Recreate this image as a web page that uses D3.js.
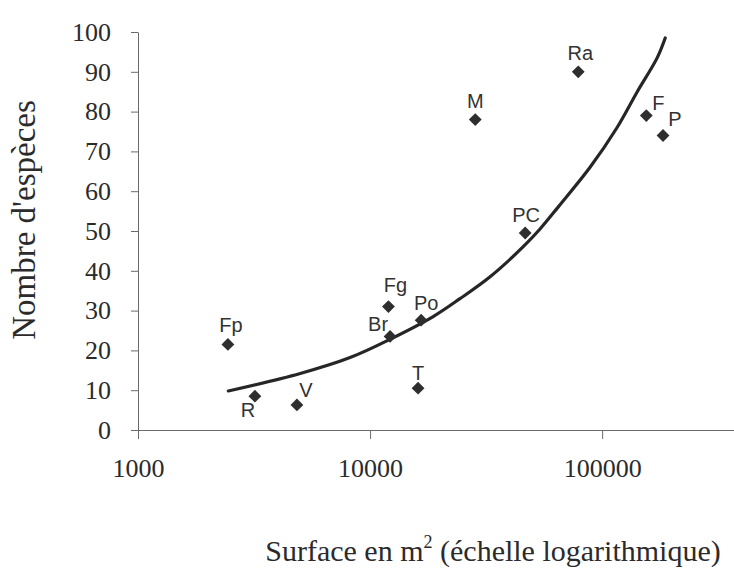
<!DOCTYPE html>
<html>
<head>
<meta charset="utf-8">
<script src="https://cdn.jsdelivr.net/npm/d3@7"></script>
<style>
  html, body { margin: 0; padding: 0; background: #fff; }
  svg { display: block; }
</style>
</head>
<body>
<svg id="chart" width="734" height="570"></svg>
<script>
// ---- data ----
const xTickValues = [1000, 10000, 100000];
const yTickValues = [0, 10, 20, 30, 40, 50, 60, 70, 80, 90, 100];
const siteNames   = ["Fp", "R", "V", "Br", "Fg", "Po", "T", "M", "PC", "Ra", "F", "P"];
const siteArea    = [2440, 3190, 4840, 12200, 12000, 16600, 16100, 28400, 46600, 78900, 155000, 183000];
const siteSpecies = [21.5, 8.5, 6.3, 23.5, 31, 27.6, 10.5, 78, 49.5, 90, 79, 74];
// fitted curve, points
const curveArea    = [2450, 5000, 8200, 12200, 18700, 24400, 32900, 45600, 54000, 64600, 88700, 116000, 141700, 172600, 187000];
const curveSpecies = [9.8, 14.2, 18.2, 22.8, 28.5, 33, 38.5, 46, 50.5, 56, 66, 76, 85, 93.5, 98.5];

// label placement (layout only)
const labelDx = [3, -7, 9, -12, 7, 5, 0, 0, 1, 2, 12, 12];
const labelDy = [-12, 21, -8, -5, -15, -10, -8, -12, -11, -12, -6, -9];

const svg = d3.select("#chart");
const x = d3.scaleLog().domain([1000, 370000]).range([138, 734]);
const y = d3.scaleLinear().domain([0, 100]).range([430, 32]);

const axisColor = "#6a6a6a";
const textColor = "#2b2b2b";
const serif = "'Liberation Serif', 'Times New Roman', serif";
const sans = "'Liberation Sans', Arial, sans-serif";

// y axis
const yAxis = svg.append("g")
  .attr("transform", "translate(138,0)")
  .call(d3.axisLeft(y).tickValues(yTickValues).tickFormat(d3.format("d"))
        .tickSize(7).tickSizeOuter(0).tickPadding(20));
yAxis.select(".domain").attr("stroke", axisColor);
yAxis.selectAll(".tick line").attr("stroke", axisColor);
yAxis.selectAll(".tick text").attr("fill", textColor)
  .style("font-family", serif).style("font-size", "26px");

// x axis
const xAxis = svg.append("g")
  .attr("transform", "translate(0,430)")
  .call(d3.axisBottom(x).tickValues(xTickValues).tickFormat(d3.format("d"))
        .tickSize(9).tickSizeOuter(0).tickPadding(20));
xAxis.select(".domain").attr("stroke", axisColor);
xAxis.selectAll(".tick line").attr("stroke", axisColor);
xAxis.selectAll(".tick text").attr("fill", textColor)
  .style("font-family", serif).style("font-size", "26px");

// curve
const curveData = curveArea.map((a, i) => [a, curveSpecies[i]]);
svg.append("path")
  .datum(curveData)
  .attr("fill", "none")
  .attr("stroke", "#262626")
  .attr("stroke-width", 3.2)
  .attr("stroke-linecap", "round")
  .attr("d", d3.line().x(d => x(d[0])).y(d => y(d[1])).curve(d3.curveCatmullRom));

// points (diamonds)
const sites = siteNames.map((n, i) => ({ name: n, area: siteArea[i], sp: siteSpecies[i], dx: labelDx[i], dy: labelDy[i] }));
svg.append("g").selectAll("path")
  .data(sites)
  .join("path")
  .attr("transform", d => `translate(${x(d.area)},${y(d.sp)}) rotate(45)`)
  .attr("d", d3.symbol().type(d3.symbolSquare).size(82))
  .attr("fill", "#2e2e2e");

svg.append("g").selectAll("text")
  .data(sites)
  .join("text")
  .attr("x", d => x(d.area) + d.dx)
  .attr("y", d => y(d.sp) + d.dy)
  .attr("text-anchor", "middle")
  .attr("fill", "#333")
  .style("font-family", sans)
  .style("font-size", "20px")
  .text(d => d.name);

// axis titles
svg.append("text")
  .attr("transform", "translate(35,220) rotate(-90)")
  .attr("text-anchor", "middle")
  .attr("fill", textColor)
  .style("font-family", serif)
  .style("font-size", "33px")
  .text("Nombre d'espèces");

const xt = svg.append("text")
  .attr("x", 493)
  .attr("y", 561)
  .attr("text-anchor", "middle")
  .attr("fill", textColor)
  .style("font-family", serif)
  .style("font-size", "30px");
xt.append("tspan").text("Surface en m");
xt.append("tspan").attr("dy", -13).style("font-size", "18px").text("2");
xt.append("tspan").attr("dy", 13).text(" (échelle logarithmique)");
</script>
</body>
</html>
